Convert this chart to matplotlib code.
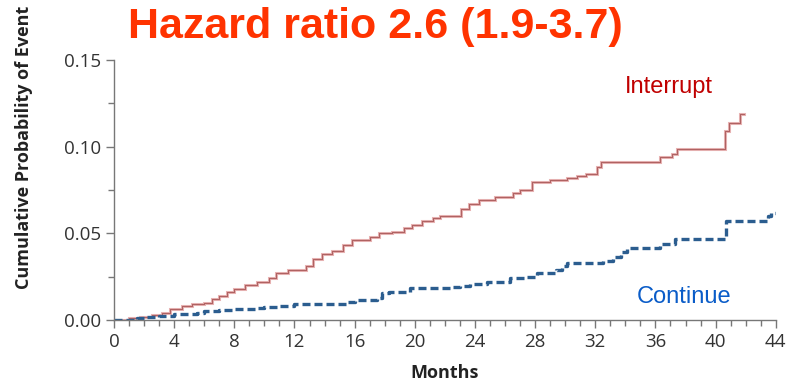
"""
Cumulative probability of event: interrupt vs continue
"""
import matplotlib
matplotlib.use('Agg')
import matplotlib.pyplot as plt
from matplotlib.ticker import MultipleLocator, FormatStrFormatter

# Step curves (months, cumulative probability)
interrupt_t = [0, 1.0, 1.7, 2.5, 3.2, 3.7, 4.5, 5.2, 6.0, 6.5, 7.0, 7.5, 8.0, 8.7,
               9.5, 10.3, 10.8, 11.6, 12.8, 13.2, 13.8, 14.5, 15.2, 15.8, 17.0,
               17.6, 18.5, 19.3, 19.8, 20.5, 21.2, 21.7, 23.1, 23.6, 24.3, 25.3,
               26.5, 27.0, 27.8, 29.0, 30.1, 30.8, 31.4, 32.1, 32.4, 36.3, 37.1,
               37.4, 40.6, 40.9, 41.6, 41.9]
interrupt_p = [0, 0.001, 0.002, 0.003, 0.004, 0.0065, 0.008, 0.009, 0.010, 0.012,
               0.014, 0.016, 0.018, 0.020, 0.022, 0.024, 0.027, 0.029, 0.031,
               0.035, 0.038, 0.040, 0.043, 0.046, 0.048, 0.050, 0.051, 0.053,
               0.055, 0.057, 0.059, 0.060, 0.064, 0.067, 0.069, 0.071, 0.073,
               0.075, 0.0795, 0.081, 0.082, 0.083, 0.0845, 0.088, 0.091, 0.094,
               0.096, 0.0985, 0.109, 0.1135, 0.119, 0.119]

continue_t = [0, 1.5, 2.0, 3.0, 4.0, 5.5, 6.0, 7.0, 8.0, 9.5, 10.0, 11.0, 12.0,
              15.0, 15.5, 16.0, 17.5, 17.8, 18.3, 19.7, 22.5, 23.0, 23.7, 24.8,
              26.3, 27.4, 28.1, 29.4, 29.8, 30.1, 32.5, 33.2, 33.7, 34.1, 36.3,
              37.3, 40.7, 43.5, 43.7, 44.0]
continue_p = [0, 0.001, 0.002, 0.0025, 0.0035, 0.004, 0.0055, 0.006, 0.0063,
              0.0068, 0.0077, 0.008, 0.009, 0.0095, 0.0105, 0.0115, 0.013,
              0.0155, 0.0163, 0.0184, 0.019, 0.0195, 0.0207, 0.022, 0.024,
              0.025, 0.027, 0.029, 0.031, 0.033, 0.034, 0.0365, 0.039, 0.0417,
              0.044, 0.0466, 0.057, 0.060, 0.062, 0.062]

fig = plt.figure(figsize=(7.86, 3.87), dpi=100)
ax = fig.add_axes([0.145, 0.173, 0.842, 0.672])

# interrupt: pale halo with a darker core
ax.step(interrupt_t, interrupt_p, where='post', color='#e8b4b4', lw=2.2,
        solid_joinstyle='miter')
ax.step(interrupt_t, interrupt_p, where='post', color='#b06262', lw=0.8)
ax.step(continue_t, continue_p, where='post', color='#2b5d8f', lw=2.4,
        linestyle=(0, (2.4, 1.2)))

ax.set_xlim(0, 44)
ax.set_ylim(0, 0.15)
for s in ('top', 'right'):
    ax.spines[s].set_visible(False)
for s in ('left', 'bottom'):
    ax.spines[s].set_color('#777777')
    ax.spines[s].set_linewidth(1.0)

ax.xaxis.set_major_locator(MultipleLocator(4))
ax.xaxis.set_minor_locator(MultipleLocator(1))
ax.yaxis.set_major_locator(MultipleLocator(0.05))
ax.yaxis.set_minor_locator(MultipleLocator(0.025))
ax.yaxis.set_major_formatter(FormatStrFormatter('%.2f'))
ax.tick_params(which='major', length=6, width=1, color='#777777',
               labelsize=13.5, labelcolor='#333333', pad=3)
ax.tick_params(which='minor', length=4, width=1, color='#777777')
for lab in ax.get_xticklabels() + ax.get_yticklabels():
    lab.set_family('Open Sans')

ax.set_xlabel('Months', family='Open Sans', fontweight='bold', fontsize=13,
              color='#222222', labelpad=10)
fig.text(0.03, 0.62, 'Cumulative Probability of Event', rotation=90,
         ha='center', va='center', family='Open Sans', fontweight='bold',
         fontsize=13, color='#222222')

fig.text(0.478, 0.93, 'Hazard ratio 2.6 (1.9-3.7)', ha='center', va='center',
         family='Liberation Sans', fontweight='bold', fontsize=31,
         color='#ff3300')
ax.text(36.9, 0.1345, 'Interrupt', ha='center', va='center',
        family='Liberation Sans', fontsize=17, color='#c00000')
ax.text(37.9, 0.0135, 'Continue', ha='center', va='center',
        family='Liberation Sans', fontsize=17, color='#0a5cc8')

fig.savefig('out.png', dpi=100)
